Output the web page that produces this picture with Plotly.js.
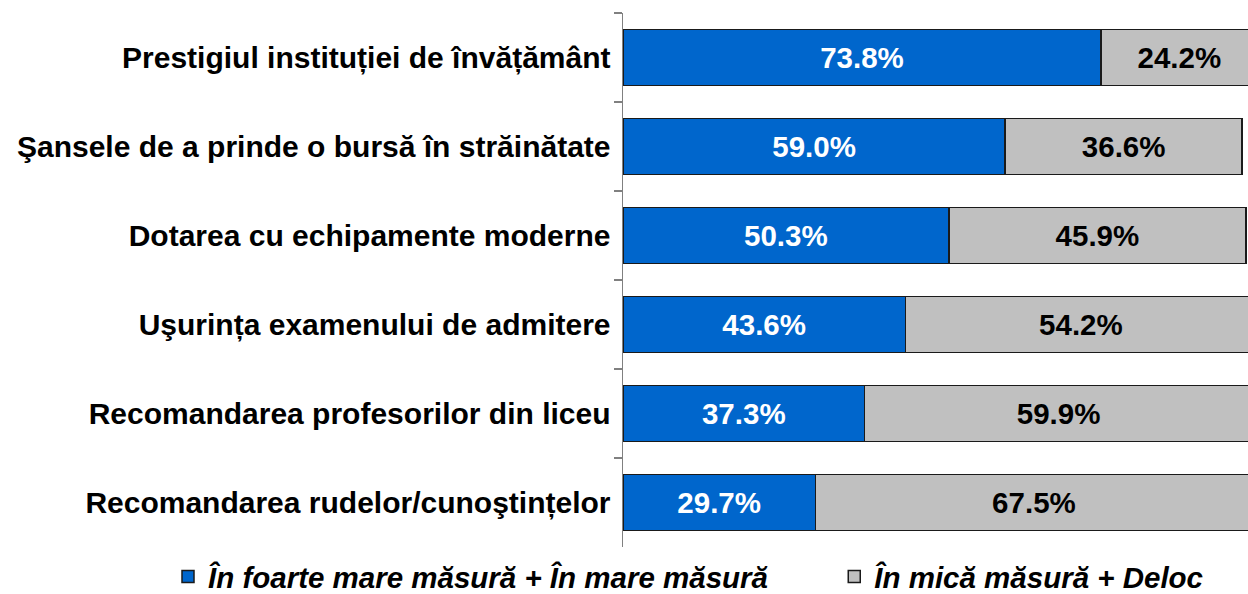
<!DOCTYPE html>
<html>
<head>
<meta charset="utf-8">
<script src="https://cdn.plot.ly/plotly-3.0.1.min.js"></script>
<style>html,body{margin:0;padding:0;background:#fff}#chart{width:1248px;height:594px}</style>
</head>
<body>
<div id="chart"></div>
<script>
const categories = [
  "Prestigiul instituției de învățământ",
  "Şansele de a prinde o bursă în străinătate",
  "Dotarea cu echipamente moderne",
  "Uşurința examenului de admitere",
  "Recomandarea profesorilor din liceu",
  "Recomandarea rudelor/cunoştințelor"
];
const seriesNames = ["În foarte mare măsură + În mare măsură", "În mică măsură + Deloc"];
const highValues = [73.8, 59.0, 50.3, 43.6, 37.3, 29.7];
const lowValues = [24.2, 36.6, 45.9, 54.2, 59.9, 67.5];

const fontFam = "Liberation Sans, Arial, sans-serif";
const common = {
  type: 'bar', orientation: 'h', y: categories,
  texttemplate: '%{x:.1f}%', textposition: 'inside', insidetextanchor: 'middle',
  textangle: 0, constraintext: 'none', width: 0.63, hoverinfo: 'none'
};
const traces = [
  Object.assign({}, common, {
    name: seriesNames[0], x: highValues, legend: 'legend',
    marker: {color: '#0066CC', line: {color: '#1a1a1a', width: 1.5}},
    insidetextfont: {family: fontFam, size: 29.5, color: '#ffffff', weight: 'bold'}
  }),
  Object.assign({}, common, {
    name: seriesNames[1], x: lowValues, legend: 'legend2',
    marker: {color: '#C0C0C0', line: {color: '#1a1a1a', width: 1.5}},
    insidetextfont: {family: fontFam, size: 29.5, color: '#000000', weight: 'bold'}
  })
];
const legendFont = {family: fontFam, size: 29.5, color: '#000000', weight: 'bold', style: 'italic'};
const layout = {
  width: 1248, height: 594, barmode: 'stack',
  margin: {l: 623, r: 0, t: 13, b: 47, pad: 0, autoexpand: false},
  paper_bgcolor: '#ffffff', plot_bgcolor: '#ffffff',
  showlegend: true,
  xaxis: {range: [0, 96.5], visible: false, fixedrange: true},
  yaxis: {
    autorange: 'reversed', showline: true, linecolor: '#808080', linewidth: 1.5,
    ticks: 'outside', tickson: 'boundaries', ticklen: 8, tickcolor: '#808080', tickwidth: 1.5,
    ticklabelstandoff: 5,
    tickfont: {family: fontFam, size: 30, color: '#000000', weight: 'bold'},
    showgrid: false, zeroline: false
  },
  legend: {
    orientation: 'h', x: -0.728, xanchor: 'left', y: -0.056, yanchor: 'middle',
    font: legendFont, bgcolor: 'rgba(0,0,0,0)'
  },
  legend2: {
    orientation: 'h', x: 0.338, xanchor: 'left', y: -0.056, yanchor: 'middle',
    font: legendFont, bgcolor: 'rgba(0,0,0,0)'
  }
};
Plotly.newPlot('chart', traces, layout, {displayModeBar: false, staticPlot: true});
</script>
</body>
</html>
